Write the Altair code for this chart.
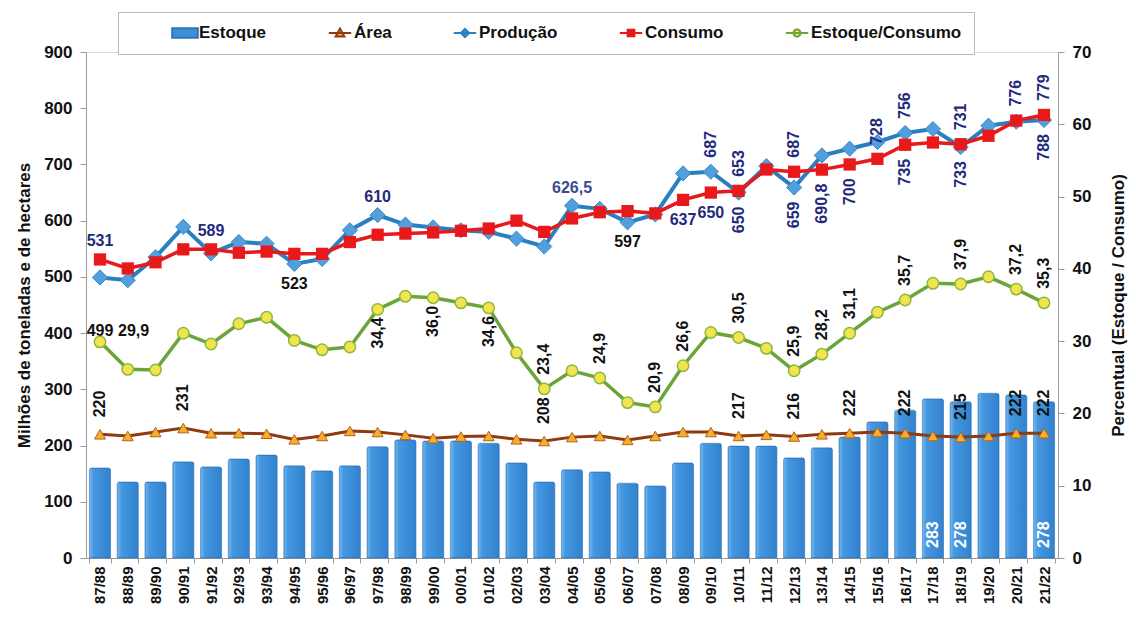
import altair as alt
import pandas as pd

categories = ["87/88", "88/89", "89/90", "90/91", "91/92", "92/93", "93/94", "94/95", "95/96", "96/97",
              "97/98", "98/99", "99/00", "00/01", "01/02", "02/03", "03/04", "04/05", "05/06", "06/07",
              "07/08", "08/09", "09/10", "10/11", "11/12", "12/13", "13/14", "14/15", "15/16", "16/17",
              "17/18", "18/19", "19/20", "20/21", "21/22"]
estoque = [160, 135, 135, 171, 162, 176, 183, 164, 155, 164, 198, 210, 208, 208, 204, 169, 135, 157, 153, 133,
           128, 169, 204, 199, 199, 178, 196, 215, 242, 263, 283, 278, 293, 290, 278]
area = [220, 217, 224, 231, 222, 222, 221, 211, 217, 226, 224, 219, 213, 216, 217, 211, 208, 215, 217, 210,
        217, 224, 224, 217, 219, 216, 220, 222, 224, 222, 217, 215, 217, 222, 222]
producao = [499, 494, 535, 589, 542, 562, 559, 523, 532, 583, 610, 593, 588, 583, 580, 568, 554, 626.5, 621, 597,
            611, 684, 687, 650, 697, 659, 716, 728, 740, 756, 763, 731, 769, 776, 779]
consumo = [531, 515, 526, 549, 549, 543, 545, 541, 541, 562, 575, 577, 579, 582, 586, 600, 580, 604, 615, 617,
           613, 637, 650, 653, 691, 687, 690.8, 700, 710, 735, 739, 736, 751, 778, 788]
estoque_consumo = [29.9, 26.1, 26.0, 31.1, 29.6, 32.4, 33.3, 30.1, 28.8, 29.2, 34.4, 36.2, 36.0, 35.3, 34.6, 28.4,
                   23.4, 25.9, 24.9, 21.5, 20.9, 26.6, 31.2, 30.5, 29.0, 25.9, 28.2, 31.1, 34.0, 35.7, 38.0, 37.9,
                   38.9, 37.2, 35.3]

# value labels for Produção / Consumo: (category, series, text, placement, colour)
pc_labels = [
    ("87/88", "consumo", "531", "up", "#1F2A7C"),
    ("87/88", "producao", "499", "far", "#111111"),
    ("91/92", "consumo", "589", "up", "#1F2A7C"),
    ("94/95", "producao", "523", "down", "#111111"),
    ("97/98", "producao", "610", "up", "#1F2A7C"),
    ("04/05", "producao", "626,5", "up", "#3B4A8C"),
    ("06/07", "producao", "597", "down", "#111111"),
    ("08/09", "consumo", "637", "down", "#1F2A7C"),
    ("09/10", "consumo", "650", "down", "#1F2A7C"),
    ("09/10", "producao", "687", "rup", "#1F2A7C"),
    ("10/11", "consumo", "653", "rup", "#1F2A7C"),
    ("10/11", "producao", "650", "rdown", "#1F2A7C"),
    ("12/13", "consumo", "687", "rup", "#1F2A7C"),
    ("12/13", "producao", "659", "rdown", "#1F2A7C"),
    ("13/14", "consumo", "690,8", "rdown", "#1F2A7C"),
    ("14/15", "consumo", "700", "rdown", "#1F2A7C"),
    ("15/16", "consumo", "728", "rup", "#1F2A7C"),
    ("16/17", "producao", "756", "rup", "#1F2A7C"),
    ("16/17", "consumo", "735", "rdown", "#1F2A7C"),
    ("18/19", "consumo", "731", "rup", "#1F2A7C"),
    ("18/19", "producao", "733", "rdown", "#1F2A7C"),
    ("20/21", "consumo", "776", "rup", "#1F2A7C"),
    ("21/22", "consumo", "779", "rup", "#1F2A7C"),
    ("21/22", "producao", "788", "rdown", "#1F2A7C"),
]
area_labels = [("87/88", "220"), ("90/91", "231"), ("03/04", "208"), ("10/11", "217"), ("12/13", "216"),
               ("14/15", "222"), ("16/17", "222"), ("18/19", "215"), ("20/21", "222"), ("21/22", "222")]
bar_labels = [("17/18", "283"), ("18/19", "278"), ("21/22", "278")]
ratio_labels = [
    ("87/88", "29,9", "right"), ("97/98", "34,4", "rdown"), ("99/00", "36,0", "rdown"), ("01/02", "34,6", "rdown"),
    ("03/04", "23,4", "rup"), ("05/06", "24,9", "rup"), ("07/08", "20,9", "rup"), ("08/09", "26,6", "rup"),
    ("10/11", "30,5", "rup"), ("12/13", "25,9", "rup"), ("13/14", "28,2", "rup"), ("14/15", "31,1", "rup"),
    ("16/17", "35,7", "rup"), ("18/19", "37,9", "rup"), ("20/21", "37,2", "rup"), ("21/22", "35,3", "rup"),
]

legend_names = ["Estoque", "Área", "Produção", "Consumo", "Estoque/Consumo"]
legend_fill = ["#3D8FDB", "#F6AE2D", "#4C9BD9", "#E8191B", "#F2E450"]
legend_stroke = ["#2E75B6", "#8E3B12", "#2A7FC1", "#E8191B", "#6BA539"]
legend_shape = [
    "M-1.6,-0.6L1.6,-0.6L1.6,0.6L-1.6,0.6Z",
    "M-1.4,0L1.4,0M0,-0.55L0.55,0.45L-0.55,0.45Z",
    "M-1.4,0L1.4,0M0,-0.5L0.5,0L0,0.5L-0.5,0Z",
    "M-1.4,0L1.4,0M-0.42,-0.42L0.42,-0.42L0.42,0.42L-0.42,0.42Z",
    "M-1.4,0L1.4,0M0.45,0L0.39,0.225L0.225,0.39L0,0.45L-0.225,0.39L-0.39,0.225L-0.45,0"
    "L-0.39,-0.225L-0.225,-0.39L0,-0.45L0.225,-0.39L0.39,-0.225Z",
]

FONT = "Liberation Sans"

df = pd.DataFrame({"cat": categories, "estoque": estoque, "area": area, "producao": producao,
                   "consumo": consumo, "ratio": estoque_consumo})
series = {"producao": producao, "consumo": consumo}
idx = {c: i for i, c in enumerate(categories)}

pc_df = pd.DataFrame([{"cat": c, "value": series[s][idx[c]], "text": t, "place": p, "col": col}
                      for c, s, t, p, col in pc_labels])
area_df = pd.DataFrame([{"cat": c, "value": area[idx[c]], "text": t} for c, t in area_labels])
bar_df = pd.DataFrame([{"cat": c, "value": 0, "text": t} for c, t in bar_labels])
ratio_df = pd.DataFrame([{"cat": c, "value": estoque_consumo[idx[c]], "text": t, "place": p}
                         for c, t, p in ratio_labels])
legend_df = pd.DataFrame({"serie": legend_names})

SX = alt.Scale(domain=categories, paddingInner=0.24, paddingOuter=0.124)
AXX = alt.Axis(title=None, labelAngle=270, tickBand="extent", labelFont=FONT, labelFontSize=15,
               labelFontWeight="bold", labelColor="#111111", domainColor="#9A9A9A", tickColor="#9A9A9A",
               tickSize=5, labelPadding=3)
SL = alt.Scale(domain=[0, 900], nice=False)
AXL = alt.Axis(values=list(range(0, 901, 100)), title="Milhões de toneladas e de hectares", orient="left",
               grid=False, labelFont=FONT, labelFontSize=17, labelFontWeight="bold", labelColor="#111111",
               titleFont=FONT, titleFontSize=17, titleFontWeight="bold", titleColor="#111111",
               domainColor="#9A9A9A", tickColor="#9A9A9A", tickSize=6, labelPadding=8, titlePadding=10)
SR = alt.Scale(domain=[0, 70], nice=False)
AXR = alt.Axis(values=list(range(0, 71, 10)), title="Percentual (Estoque / Consumo)", orient="right",
               grid=False, labelFont=FONT, labelFontSize=17, labelFontWeight="bold", labelColor="#111111",
               titleFont=FONT, titleFontSize=17, titleFontWeight="bold", titleColor="#111111",
               titleAngle=270, titleBaseline="top", domainColor="#9A9A9A", tickColor="#9A9A9A", tickSize=6,
               labelPadding=8, titlePadding=20)


def X():
    return alt.X("cat:N", scale=SX, axis=AXX, sort=categories)


def YL(f):
    return alt.Y(f"{f}:Q", scale=SL, axis=AXL)


def YR(f):
    return alt.Y(f"{f}:Q", scale=SR, axis=AXR)


base = alt.Chart(df)
bar_grad = alt.Gradient(gradient="linear", x1=0, x2=1, y1=0, y2=0,
                        stops=[alt.GradientStop(color="#72B8F0", offset=0),
                               alt.GradientStop(color="#4597E0", offset=0.2),
                               alt.GradientStop(color="#3282CF", offset=1)])
bars = base.mark_bar(color=bar_grad, stroke="#2A6FB5", strokeWidth=0.6,
                     cornerRadiusTopLeft=2, cornerRadiusTopRight=2).encode(x=X(), y=YL("estoque"))
area_line = base.mark_line(color="#8E3B12", strokeWidth=3).encode(x=X(), y=YL("area"))
area_pts = base.mark_point(shape="triangle-up", filled=True, fill="#F6AE2D", stroke="#B5621B",
                           strokeWidth=1, size=120, opacity=1).encode(x=X(), y=YL("area"))
prod_line = base.mark_line(color="#2A7FC1", strokeWidth=4).encode(x=X(), y=YL("producao"))
prod_pts = base.mark_point(shape="diamond", filled=True, fill="#529FDB", stroke="#3A8ACB",
                           strokeWidth=1, size=230, opacity=1).encode(x=X(), y=YL("producao"))
cons_line = base.mark_line(color="#E8191B", strokeWidth=3.5).encode(x=X(), y=YL("consumo"))
cons_pts = base.mark_point(shape="square", filled=True, color="#E8191B", size=150,
                           opacity=1).encode(x=X(), y=YL("consumo"))

TXT = dict(font=FONT, fontSize=16, fontWeight="bold")


def pc_layer(place, **kw):
    return alt.Chart(pc_df).transform_filter(alt.datum.place == place).mark_text(**TXT, **kw).encode(
        x=X(), y=YL("value"), text="text:N", color=alt.Color("col:N", scale=None))


pc_up = pc_layer("up", align="center", baseline="bottom", dy=-10)
pc_down = pc_layer("down", align="center", baseline="top", dy=12)
pc_far = pc_layer("far", align="center", baseline="top", dy=46)
pc_rup = pc_layer("rup", angle=270, align="left", baseline="middle", dx=14)
pc_rdown = pc_layer("rdown", angle=270, align="right", baseline="middle", dx=-14)

area_txt = alt.Chart(area_df).mark_text(**TXT, angle=270, align="left", baseline="middle", dx=17,
                                        color="#111111").encode(x=X(), y=YL("value"), text="text:N")
bar_txt = alt.Chart(bar_df).mark_text(**TXT, angle=270, align="left", baseline="middle", dx=10,
                                      color="white").encode(x=X(), y=YL("value"), text="text:N")

left = alt.layer(bars, area_line, area_pts, prod_line, prod_pts, cons_line, cons_pts,
                 pc_up, pc_down, pc_far, pc_rup, pc_rdown, area_txt, bar_txt)

ratio_line = base.mark_line(color="#6BA539", strokeWidth=3.5).encode(x=X(), y=YR("ratio"))
ratio_pts = base.mark_point(shape="circle", filled=True, fill="#F2E450", stroke="#8DB83A",
                            strokeWidth=1.5, size=130, opacity=1).encode(x=X(), y=YR("ratio"))


def r_layer(place, **kw):
    return alt.Chart(ratio_df).transform_filter(alt.datum.place == place).mark_text(
        **TXT, color="#111111", **kw).encode(x=X(), y=YR("value"), text="text:N")


r_up = r_layer("rup", angle=270, align="left", baseline="middle", dx=14)
r_down = r_layer("rdown", angle=270, align="right", baseline="middle", dx=-8)
r_right = r_layer("right", align="left", baseline="middle", dx=18, dy=-11)

right = alt.layer(ratio_line, ratio_pts, r_up, r_down, r_right)

LEG = alt.Legend(title=" ", titleOrient="left", titlePadding=46, titleFontSize=4,
                 orient="none", legendX=32, legendY=-40, direction="horizontal", columns=5, gridAlign="none",
                 labelFont=FONT, labelFontSize=17, labelFontWeight="bold", labelColor="#111111",
                 symbolSize=256, symbolStrokeWidth=2, symbolOpacity=1, labelOffset=5, columnPadding=57,
                 labelLimit=300, padding=12, strokeColor="#BBBBBB", fillColor="white")
legend_layer = alt.Chart(legend_df).mark_point(opacity=0, filled=True).encode(
    fill=alt.Fill("serie:N", scale=alt.Scale(domain=legend_names, range=legend_fill), legend=LEG),
    stroke=alt.Stroke("serie:N", scale=alt.Scale(domain=legend_names, range=legend_stroke), legend=LEG),
    shape=alt.Shape("serie:N", scale=alt.Scale(domain=legend_names, range=legend_shape), legend=LEG),
)

chart = alt.layer(left, right, legend_layer).resolve_scale(y="independent").properties(
    width=972, height=506,
    autosize=alt.AutoSizeParams(type="none"),
    padding={"left": 86, "top": 52, "right": 78, "bottom": 61},
).configure_view(strokeWidth=0).configure(background="white")

chart.save("out.html", embed_options={"renderer": "svg", "actions": False})
